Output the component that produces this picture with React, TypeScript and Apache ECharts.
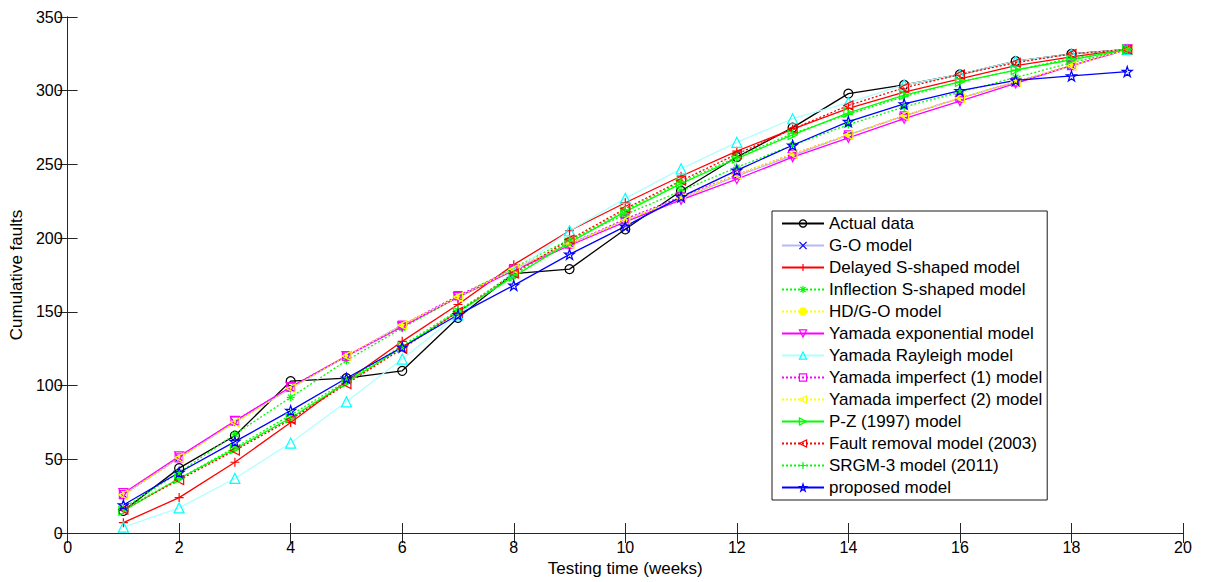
import React, { useEffect, useRef } from "react";
import * as echarts from "echarts";

const weeks = [1, 2, 3, 4, 5, 6, 7, 8, 9, 10, 11, 12, 13, 14, 15, 16, 17, 18, 19];
const xTicks = [0, 2, 4, 6, 8, 10, 12, 14, 16, 18, 20];
const yTicks = [0, 50, 100, 150, 200, 250, 300, 350];

const actualData = [15, 44, 66, 103, 105, 110, 146, 176, 179, 206, 232, 255, 275, 298, 304, 311, 320, 325, 328];
const goModel = [26, 51, 75, 98, 120, 141, 160, 179, 196, 212, 227, 242, 256, 270, 283, 295, 306, 317, 328];
const delayedS = [7, 24, 48, 75, 103, 130, 155, 182, 205, 224, 242, 259, 274, 288, 299, 308, 317, 323, 328];
const inflectionS = [17, 41, 67, 92, 117, 139, 160, 180, 199, 216, 232, 248, 263, 277, 289, 299, 309, 319, 328];
const hdGo = [26, 51, 75, 98, 120, 141, 160, 179, 196, 212, 227, 243, 257, 270, 283, 295, 306, 317, 328];
const yamadaExp = [27, 52, 76, 99, 120, 140, 160, 178, 195, 211, 226, 240, 255, 268, 281, 293, 305, 317, 328];
const yamadaRayleigh = [4, 17, 37, 61, 89, 118, 148, 177, 205, 227, 247, 265, 281, 292, 304, 311, 320, 325, 328];
const yamadaImp1 = [26, 51, 76, 99, 120, 141, 161, 179, 196, 213, 228, 243, 257, 270, 283, 295, 306, 317, 328];
const yamadaImp2 = [26, 51, 75, 98, 120, 141, 160, 179, 196, 212, 227, 243, 257, 270, 283, 295, 306, 317, 328];
const pzModel = [15, 37, 57, 78, 102, 126, 150, 174, 197, 218, 237, 254, 270, 285, 297, 306, 314, 321, 328];
const faultRemoval = [16, 36, 56, 77, 101, 125, 150, 176, 199, 220, 239, 257, 274, 290, 302, 311, 319, 325, 328];
const srgm3 = [16, 37, 58, 80, 103, 127, 151, 175, 198, 219, 238, 255, 271, 284, 296, 306, 314, 322, 328];
const proposed = [19, 41, 62, 83, 105, 126, 148, 168, 189, 208, 228, 246, 263, 279, 291, 300, 307, 310, 313];

const P = {
  plus: "path://M5,0L5,10M0,5L10,5",
  cross: "path://M0,0L10,10M10,0L0,10",
  star6: "path://M5,0L5,10M0,5L10,5M1.5,1.5L8.5,8.5M8.5,1.5L1.5,8.5",
  down: "path://M0,0L10,0L5,9Z",
  up: "path://M5,0L10,9L0,9Z",
  left: "path://M10,0L10,10L1,5Z",
  right: "path://M0,0L0,10L9,5Z",
  square: "path://M0,0L10,0L10,10L0,10Z",
  pent:
    "path://M5,0L6.2,3.6L10,3.6L6.9,5.9L8.1,9.5L5,7.3L1.9,9.5L3.1,5.9L0,3.6L3.8,3.6Z",
};

type Spec = {
  name: string;
  data: number[];
  line: string;
  marker: string;
  symbol: string;
  size: number;
  dash?: boolean;
  fill?: boolean;
};

const specs: Spec[] = [
  { name: "Actual data", data: actualData, line: "#000000", marker: "#000000", symbol: "circle", size: 9 },
  { name: "G-O model", data: goModel, line: "#b8b8f8", marker: "#0000ff", symbol: P.cross, size: 6 },
  { name: "Delayed S-shaped model", data: delayedS, line: "#ff0000", marker: "#ff0000", symbol: P.plus, size: 9 },
  { name: "Inflection S-shaped model", data: inflectionS, line: "#00ff00", marker: "#00ff00", symbol: P.star6, size: 8, dash: true },
  { name: "HD/G-O model", data: hdGo, line: "#ffff00", marker: "#ffff00", symbol: "circle", size: 3, dash: true, fill: true },
  { name: "Yamada exponential model", data: yamadaExp, line: "#ff00ff", marker: "#ff00ff", symbol: P.down, size: 9 },
  { name: "Yamada Rayleigh model", data: yamadaRayleigh, line: "#b0ffff", marker: "#00ffff", symbol: P.up, size: 10 },
  { name: "Yamada imperfect (1) model", data: yamadaImp1, line: "#ff00ff", marker: "#ff00ff", symbol: P.square, size: 8, dash: true },
  { name: "Yamada imperfect (2) model", data: yamadaImp2, line: "#ffff00", marker: "#ffff00", symbol: P.left, size: 9, dash: true },
  { name: "P-Z (1997) model", data: pzModel, line: "#00ff00", marker: "#00ff00", symbol: P.right, size: 9 },
  { name: "Fault removal model (2003)", data: faultRemoval, line: "#ff0000", marker: "#ff0000", symbol: P.left, size: 9, dash: true },
  { name: "SRGM-3 model (2011)", data: srgm3, line: "#00ff00", marker: "#00ff00", symbol: P.plus, size: 9, dash: true },
  { name: "proposed model", data: proposed, line: "#0000ff", marker: "#0000ff", symbol: P.pent, size: 10 },
];

const FONT = "'Liberation Sans', Arial, Helvetica, sans-serif";
const AX = "#262626";
const CLEAR = "rgba(255,255,255,0)";

export default function App() {
  const ref = useRef<HTMLDivElement>(null);
  useEffect(() => {
    if (!ref.current) return;
    const chart = echarts.init(ref.current, undefined, { renderer: "svg" });
    const series = specs.map((s) => ({
      name: s.name,
      type: "line",
      data: weeks.map((w, i) => [w, s.data[i]]),
      symbol: s.symbol,
      symbolSize: s.size,
      showSymbol: true,
      lineStyle: { color: s.line, width: 1.3, type: s.dash ? [2, 2] : "solid" },
      itemStyle: {
        color: s.fill ? s.marker : CLEAR,
        borderColor: s.marker,
        borderWidth: 1.2,
      },
      emphasis: { disabled: true },
      z: 2,
    }));
    chart.setOption({
      animation: false,
      backgroundColor: "#ffffff",
      textStyle: { fontFamily: FONT },
      grid: { left: 67, right: 26, top: 17, bottom: 45 },
      legend: {
        orient: "vertical",
        left: 772,
        top: 211,
        padding: [4, 5, 4, 9],
        itemWidth: 42,
        itemHeight: 9,
        itemGap: 5,
        backgroundColor: "#ffffff",
        borderColor: "#1a1a1a",
        borderWidth: 1,
        borderRadius: 0,
        textStyle: { fontFamily: FONT, fontSize: 17, color: "#000", lineHeight: 16 },
        data: specs.map((s) => ({
          name: s.name,
          itemStyle: {
            color: s.fill ? s.marker : CLEAR,
            borderColor: s.marker,
            borderWidth: 1.2,
          },
        })),
        selectedMode: false,
      },
      xAxis: [
        {
          type: "value",
          min: xTicks[0],
          max: xTicks[xTicks.length - 1],
          interval: 2,
          name: "Testing time (weeks)",
          nameLocation: "middle",
          nameGap: 27,
          nameTextStyle: { fontFamily: FONT, fontSize: 17, color: "#000" },
          axisLine: { show: true, lineStyle: { color: AX, width: 1 } },
          axisTick: { show: true, inside: true, length: 10, lineStyle: { color: AX } },
          axisLabel: { fontFamily: FONT, fontSize: 16, color: "#000", margin: 6 },
          splitLine: { show: false },
        },
        {
          type: "value",
          position: "top",
          min: xTicks[0],
          max: xTicks[xTicks.length - 1],
          interval: 2,
          axisLine: { show: true, lineStyle: { color: AX, width: 1 } },
          axisTick: { show: true, inside: true, length: 10, lineStyle: { color: AX } },
          axisLabel: { show: false },
          splitLine: { show: false },
        },
      ],
      yAxis: [
        {
          type: "value",
          min: yTicks[0],
          max: yTicks[yTicks.length - 1],
          interval: 50,
          name: "Cumulative faults",
          nameLocation: "middle",
          nameGap: 42,
          nameTextStyle: { fontFamily: FONT, fontSize: 17, color: "#000" },
          axisLine: { show: true, lineStyle: { color: AX, width: 1 } },
          axisTick: { show: true, inside: true, length: 10, lineStyle: { color: AX } },
          axisLabel: { fontFamily: FONT, fontSize: 16, color: "#000", margin: 5 },
          splitLine: { show: false },
        },
        {
          type: "value",
          position: "right",
          min: yTicks[0],
          max: yTicks[yTicks.length - 1],
          interval: 50,
          axisLine: { show: true, lineStyle: { color: AX, width: 1 } },
          axisTick: { show: true, inside: true, length: 10, lineStyle: { color: AX } },
          axisLabel: { show: false },
          splitLine: { show: false },
        },
      ],
      series,
    });
    return () => chart.dispose();
  }, []);
  return <div ref={ref} style={{ width: 1209, height: 582, position: "absolute", left: 0, top: 0 }} />;
}
